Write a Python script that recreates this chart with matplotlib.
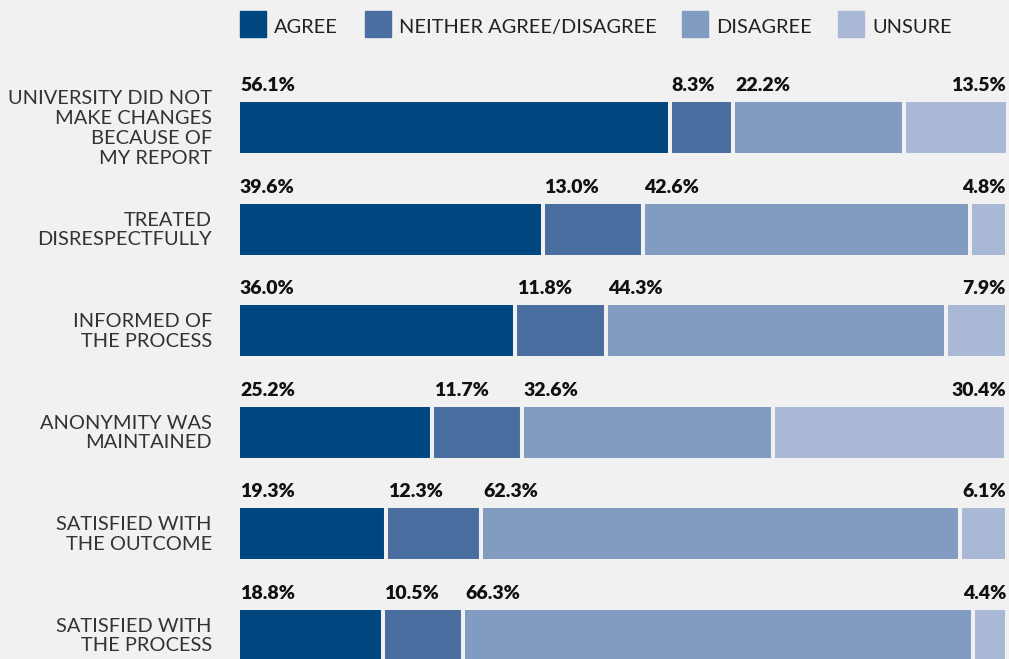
import matplotlib.pyplot as plt
from matplotlib.patches import Rectangle

categories = [
    'UNIVERSITY DID NOT\nMAKE CHANGES\nBECAUSE OF\nMY REPORT',
    'TREATED\nDISRESPECTFULLY',
    'INFORMED OF\nTHE PROCESS',
    'ANONYMITY WAS\nMAINTAINED',
    'SATISFIED WITH\nTHE OUTCOME',
    'SATISFIED WITH\nTHE PROCESS',
]
responses = ['AGREE', 'NEITHER AGREE/DISAGREE', 'DISAGREE', 'UNSURE']
agree = [56.1, 39.6, 36.0, 25.2, 19.3, 18.8]
neither = [8.3, 13.0, 11.8, 11.7, 12.3, 10.5]
disagree = [22.2, 42.6, 44.3, 32.6, 62.3, 66.3]
unsure = [13.5, 4.8, 7.9, 30.4, 6.1, 4.4]

colors = ['#00467f', '#4a6ea0', '#829bc0', '#a9b9d5']
bg = '#f1f1f1'

W, H = 1009, 659
fig = plt.figure(figsize=(W / 100, H / 100), dpi=100, facecolor=bg)
# axes spans bar area horizontally, full height vertically
ax = fig.add_axes([238 / W, 0, 770 / W, 1])
ax.set_facecolor(bg)

row_px = 101.5
top_px = 127.5
ax.set_xlim(0, 100.1)
ax.set_ylim((H - top_px) / row_px, -top_px / row_px)
ax.axis('off')

series = [agree, neither, disagree, unsure]
n = len(categories)
lefts = [0.0] * n
for s, vals in enumerate(series):
    ax.barh(range(n), vals, left=lefts, height=55 / row_px,
            color=colors[s], edgecolor=bg, linewidth=2.9)
    for i, v in enumerate(vals):
        lbl = f'{v:.1f}%'
        y = i - 36.5 / row_px
        if s == len(series) - 1:
            ax.text(100.1 - 0.25, y, lbl, ha='right', va='baseline',
                    fontsize=14, fontweight='heavy', family='Lato', color='#111111')
        else:
            ax.text(lefts[i] + 0.25, y, lbl, ha='left', va='baseline',
                    fontsize=14, fontweight='heavy', family='Lato', color='#111111')
        lefts[i] += v

for i, cat in enumerate(categories):
    fig.text(212 / W, 1 - (top_px + 1 + i * row_px) / H, cat, ha='right', va='center',
             fontsize=14.4, family='Lato', color='#333333', linespacing=1.2)

# legend row
legend_x = [240, 365, 682, 838]
for x, name, c in zip(legend_x, responses, colors):
    fig.patches.append(Rectangle((x / W, 1 - 37 / H), 26 / W, 26 / H,
                                 transform=fig.transFigure, color=c))
    fig.text((x + 34) / W, 1 - 33 / H, name, ha='left', va='baseline',
             fontsize=14.4, family='Lato', color='#222222')

fig.savefig('out.png', dpi=100, facecolor=bg)
